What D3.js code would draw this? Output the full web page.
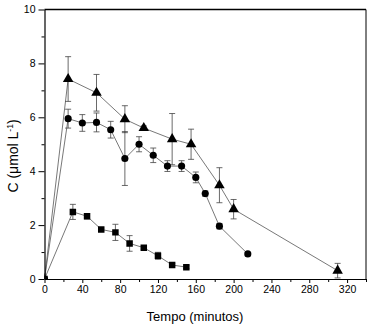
<!DOCTYPE html>
<html>
<head>
<meta charset="utf-8">
<script src="https://cdn.jsdelivr.net/npm/d3@7"></script>
<style>
body { margin: 0; background: #fff; }
text { font-family: "Liberation Sans", Arial, sans-serif; }
</style>
</head>
<body>
<script>
// data (time in minutes, concentration in umol/L)
const triTime = [0, 25, 55, 85, 105, 135, 155, 185, 200, 310];
const triC    = [0, 7.42, 6.91, 5.93, 5.6, 5.19, 5.0, 3.48, 2.59, 0.31];
const triErr  = [0, 0.83, 0.68, 0.5, 0.08, 0.95, 0.56, 0.65, 0.36, 0.27];

const cirTime = [0, 25, 40, 55, 70, 85, 100, 115, 130, 145, 160, 170, 185, 215];
const cirC    = [0, 5.95, 5.79, 5.81, 5.54, 4.47, 5.0, 4.59, 4.19, 4.19, 3.77, 3.17, 1.96, 0.93];
const cirErr  = [0, 0.35, 0.31, 0.35, 0.31, 1.0, 0.28, 0.27, 0.2, 0.2, 0.2, 0.1, 0.1, 0];

const sqTime = [0, 30, 45, 60, 75, 90, 105, 120, 135, 150];
const sqC    = [0, 2.49, 2.33, 1.84, 1.73, 1.32, 1.16, 0.86, 0.52, 0.44];
const sqErr  = [0, 0.28, 0.1, 0.05, 0.3, 0.29, 0.05, 0.13, 0.05, 0.05];

const xTicks = [0, 40, 80, 120, 160, 200, 240, 280, 320];
const yTicks = [0, 2, 4, 6, 8, 10];

const W = 375, H = 327;
const margin = {top: 9.5, right: 9, bot: 48, left: 44.5};
const width = W - margin.left - margin.right,
      height = H - margin.top - margin.bot;

const x = d3.scaleLinear().domain([0, 340]).range([0, width]);
const y = d3.scaleLinear().domain([0, 10]).range([height, 0]);

const svg = d3.select("body").append("svg")
  .attr("width", W).attr("height", H);

svg.append("defs").append("clipPath").attr("id", "plot")
  .append("rect").attr("width", width).attr("height", height);

const g = svg.append("g").attr("transform", `translate(${margin.left},${margin.top})`);

const mk = (t, c, e) => t.map((d, i) => ({t: d, c: c[i], e: e[i]}));
const series = [
  {data: mk(triTime, triC, triErr), shape: d3.symbolTriangle, size: 48},
  {data: mk(cirTime, cirC, cirErr), shape: d3.symbolCircle, size: 40},
  {data: mk(sqTime, sqC, sqErr), shape: d3.symbolSquare, size: 42}
];

const plot = g.append("g").attr("clip-path", "url(#plot)");
const line = d3.line().x(d => x(d.t)).y(d => y(d.c));

series.forEach(s => {
  plot.append("path").datum(s.data)
    .attr("d", line)
    .attr("fill", "none")
    .attr("stroke", "#555")
    .attr("stroke-width", 0.8);

  // error bars
  const eb = plot.selectAll(null).data(s.data.filter(d => d.e > 0)).enter().append("g")
    .attr("stroke", "#444").attr("stroke-width", 0.8);
  eb.append("line")
    .attr("x1", d => x(d.t)).attr("x2", d => x(d.t))
    .attr("y1", d => y(d.c - d.e)).attr("y2", d => y(d.c + d.e));
  [-1, 1].forEach(k => eb.append("line")
    .attr("x1", d => x(d.t) - 3).attr("x2", d => x(d.t) + 3)
    .attr("y1", d => y(d.c + k * d.e)).attr("y2", d => y(d.c + k * d.e)));

  plot.selectAll(null).data(s.data).enter().append("path")
    .attr("d", d3.symbol().type(s.shape).size(s.size))
    .attr("transform", d => `translate(${x(d.t)},${y(d.c)})`)
    .attr("fill", "#000");
});

// frame
g.append("line").attr("x1", 0).attr("x2", width).attr("y1", 0).attr("y2", 0)
  .attr("stroke", "#000").attr("stroke-width", 1.6);
g.append("line").attr("x1", width).attr("x2", width).attr("y1", 0).attr("y2", height)
  .attr("stroke", "#000").attr("stroke-width", 1);

// axes
const xAxis = g.append("g").attr("transform", `translate(0,${height})`)
  .call(d3.axisBottom(x).tickValues(xTicks).tickSize(4).tickPadding(3).tickSizeOuter(0));
g.append("g").attr("transform", `translate(0,${height})`)
  .call(d3.axisBottom(x).tickValues(xTicks.map(v => v + 20)).tickSize(3).tickFormat("").tickSizeOuter(0))
  .select(".domain").remove();

const yAxis = g.append("g")
  .call(d3.axisLeft(y).tickValues(yTicks).tickSize(6).tickPadding(3).tickSizeOuter(0));
g.append("g")
  .call(d3.axisLeft(y).tickValues(yTicks.slice(0, -1).map(v => v + 1)).tickSize(3).tickFormat("").tickSizeOuter(0))
  .select(".domain").remove();

[xAxis, yAxis].forEach(a => {
  a.selectAll("text").attr("font-size", 10.5).attr("fill", "#000");
  a.select(".domain").attr("stroke-width", 1.2);
});

// titles
svg.append("text")
  .attr("x", 195).attr("y", 321)
  .attr("text-anchor", "middle").attr("font-size", 13)
  .text("Tempo (minutos)");

const yl = svg.append("text")
  .attr("transform", `translate(18,156) rotate(-90)`)
  .attr("text-anchor", "middle").attr("font-size", 14);
yl.append("tspan").text("C (μmol L");
yl.append("tspan").attr("font-size", 8.5).attr("dy", -5).text("-1");
yl.append("tspan").attr("dy", 5).text(")");
</script>
</body>
</html>
